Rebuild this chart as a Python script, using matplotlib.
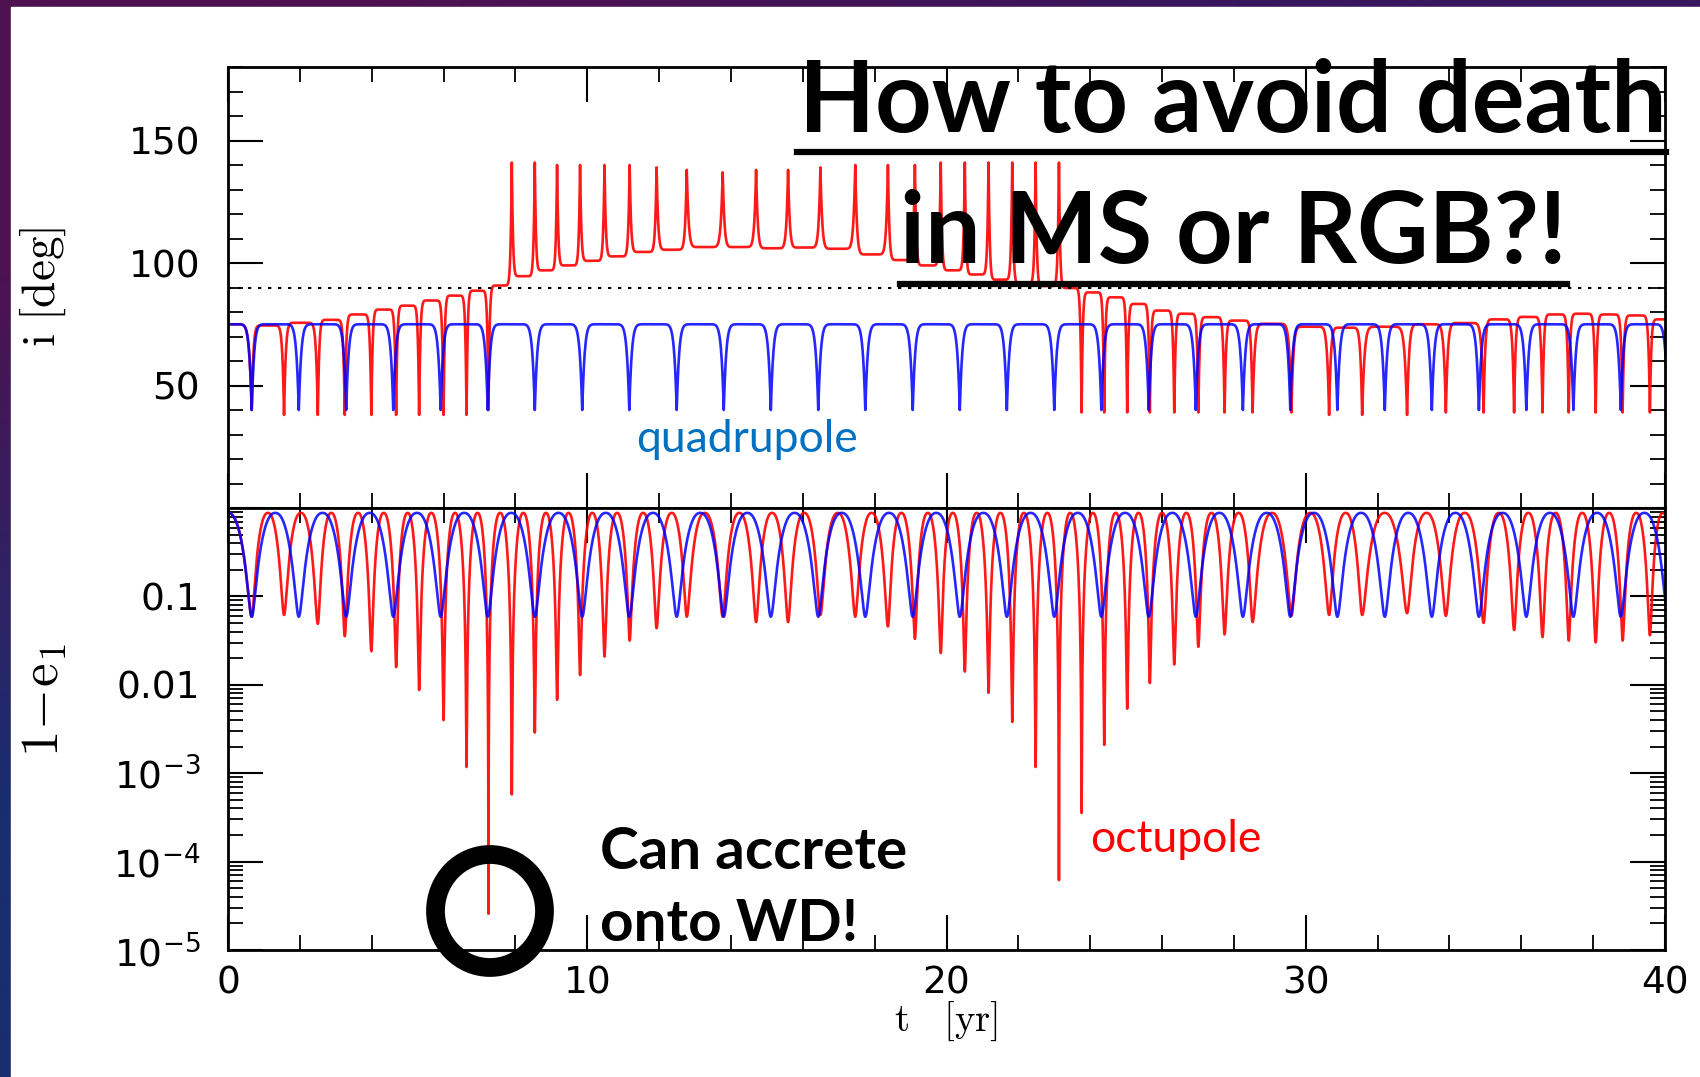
import numpy as np
import matplotlib.pyplot as plt
from matplotlib.patches import Ellipse, Rectangle
from matplotlib.lines import Line2D
from matplotlib.ticker import FixedLocator, MultipleLocator, LogLocator, FixedFormatter, NullFormatter

W, H = 1700, 1077

# quadrupole run: times of the eccentricity maxima [yr] (first/last just outside 0-40)
quad_t = [-0.66, 0.66, 1.97, 3.29, 4.60, 5.92, 7.23, 8.54, 9.86, 11.17, 12.49,
          13.80, 15.11, 16.43, 17.74, 19.06, 20.37, 21.68, 23.00, 24.31, 25.63,
          26.94, 28.25, 29.57, 30.88, 32.20, 33.51, 34.82, 36.14, 37.45, 38.77, 40.08]
quad_log_min = -1.23      # log10(1-e1) at each maximum
quad_i_dip = 40.0         # inclination at each maximum
quad_i_level = 75.0       # inclination between maxima

# octupole run
oct_t = [-0.66, 0.66, 1.56, 2.50, 3.25, 3.99, 4.68, 5.32, 6.00, 6.64,
         7.25, 7.90, 8.54, 9.16, 9.80, 10.48, 11.18, 11.93, 12.77, 13.77,
         14.70, 15.59, 16.49, 17.46, 18.37, 19.12, 19.84, 20.51, 21.17, 21.83,
         22.48, 23.13, 23.76, 24.39, 25.03, 25.66, 26.34, 27.01, 27.74, 28.52,
         29.60, 30.65, 31.57, 32.82, 33.90, 34.95, 35.80, 36.59, 37.32, 38.07,
         38.82, 39.58, 40.30]
oct_log_min = [-1.23, -1.23, -1.21, -1.31, -1.45, -1.62, -1.80, -2.06, -2.40, -2.93,
               -4.59, -3.24, -2.54, -2.17, -1.89, -1.68, -1.50, -1.36, -1.23, -1.23,
               -1.29, -1.29, -1.21, -1.23, -1.34, -1.48, -1.64, -1.85, -2.09, -2.42,
               -2.93, -4.21, -3.45, -2.68, -2.27, -1.98, -1.77, -1.57, -1.43, -1.29,
               -1.22, -1.21, -1.21, -1.19, -1.22, -1.30, -1.38, -1.46, -1.50, -1.52,
               -1.50, -1.44, -1.40]
oct_i_peak = [40, 40, 38, 38, 38, 38, 38, 38, 38, 38,
              40, 141, 141, 140, 140, 140, 140, 139, 138, 137,
              138, 138, 139, 140, 140, 140, 141, 141, 141, 141,
              141, 141, 39, 39, 39, 39, 39, 39, 39, 39,
              39, 38, 38, 38, 39, 39, 39, 39, 39, 39,
              39, 39, 39]
oct_i_level = [75, 74.5, 75.6, 76.8, 79, 81, 82.6, 84.7, 86.7, 88.7,
               90.8, 94.6, 97, 99, 100.9, 102.7, 104.5, 105.4, 106.5, 106.5,
               106, 106.3, 105.8, 103.5, 101.2, 99, 97, 95.3, 93.2, 91.7,
               90.6, 89.8, 88, 86, 83.3, 80.6, 79.3, 77.9, 76.5, 75.2,
               74, 73.6, 74, 75, 75.5, 77, 78, 79, 79.3, 79,
               78.6, 77]
e_floor = 0.12


def build(times, log_min, i_ext, levels, m=6.0, pts=500):
    # join the read extrema with Kozai-like cycles
    ts, inc, ome = [], [], []
    for k in range(len(times) - 1):
        s = np.linspace(0, 1, pts)
        u = (1 - np.cos(np.pi * s)) / 2
        t = times[k] + u * (times[k + 1] - times[k])
        c = np.abs(np.cos(np.pi * u))
        left = u < 0.5
        emax = np.where(left, 1 - 10 ** log_min[k], 1 - 10 ** log_min[k + 1])
        iext = np.where(left, i_ext[k], i_ext[k + 1])
        e = e_floor + (emax - e_floor) * c ** 2.3
        f = (1 - np.abs(np.sin(np.pi * u))) ** m
        ts.append(t)
        inc.append(levels[k] + (iext - levels[k]) * f)
        ome.append(1 - e)
    return np.concatenate(ts), np.concatenate(inc), np.concatenate(ome)


nq = len(quad_t)
tq, iq, eq = build(quad_t, [quad_log_min] * nq, [quad_i_dip] * nq, [quad_i_level] * (nq - 1))
to, io, eo = build(oct_t, oct_log_min, oct_i_peak, oct_i_level)

fig = plt.figure(figsize=(17, 10.77), dpi=100)

# slide background
bg = fig.add_axes([0, 0, 1, 1], zorder=-10)
grad = np.array([[[78, 18, 80], [55, 22, 95]],
                 [[25, 45, 112], [25, 45, 112]]]) / 255
bg.imshow(grad, extent=[0, 1, 0, 1], aspect='auto', interpolation='bilinear')
bg.add_patch(Rectangle((11 / W, 0), 1, 1 - 7 / H, color='white'))
bg.set_xlim(0, 1)
bg.set_ylim(0, 1)
bg.axis('off')

x0, wd = 228 / W, 1437 / W
ax1 = fig.add_axes([x0, 1 - 508 / H, wd, 441 / H])
ax2 = fig.add_axes([x0, 1 - 950 / H, wd, 442 / H])

ax1.plot(to, io, color='#ff0000', lw=1.9, alpha=0.9)
ax1.plot(tq, iq, color='#0000ff', lw=1.9, alpha=0.85)
ax1.axhline(90, color='k', lw=1.5, ls=(0, (1.6, 3.2)))
ax1.set_xlim(0, 40)
ax1.set_ylim(0, 180)

ax2.plot(to, eo, color='#ff0000', lw=1.9, alpha=0.9)
ax2.plot(tq, eq, color='#0000ff', lw=1.9, alpha=0.85)
ax2.set_yscale('log')
ax2.set_xlim(0, 40)
ax2.set_ylim(1e-5, 1)

for ax in (ax1, ax2):
    ax.xaxis.set_major_locator(MultipleLocator(10))
    ax.xaxis.set_minor_locator(MultipleLocator(2))
    ax.tick_params(which='major', direction='in', length=25, width=1.5,
                   top=True, right=True, labelsize=27, pad=20)
    ax.tick_params(which='minor', direction='in', length=11, width=1.3,
                   top=True, right=True)
    for sp in ax.spines.values():
        sp.set_linewidth(2)

ax1.yaxis.set_major_locator(FixedLocator([50, 100, 150]))
ax1.yaxis.set_minor_locator(MultipleLocator(10))
ax1.tick_params(axis='x', labelbottom=False)

ax2.yaxis.set_major_locator(FixedLocator([1e-5, 1e-4, 1e-3, 1e-2, 1e-1, 1]))
ax2.yaxis.set_major_formatter(FixedFormatter(
    [r'$10^{-5}$', r'$10^{-4}$', r'$10^{-3}$', '0.01', '0.1', '']))
ax2.yaxis.set_minor_locator(LogLocator(base=10, subs=np.arange(2, 10), numticks=20))
ax2.yaxis.set_minor_formatter(NullFormatter())
ax2.tick_params(axis='x', pad=11)

fig.text(43 / W, 1 - 287 / H, r'$\mathrm{i\ [deg]}$', rotation=90, fontsize=34,
         math_fontfamily='cm', ha='center', va='center')
fig.text(43 / W, 1 - 700 / H, r'$1\!-\!\mathrm{e}_1$', rotation=90, fontsize=38,
         math_fontfamily='cm', ha='center', va='center')
fig.text(946 / W, 1 - 1021 / H, r'$\mathrm{t\quad[yr]}$', fontsize=28,
         math_fontfamily='cm', ha='center', va='center')

# slide annotations
fig.text(799 / W, 1 - 132 / H, 'How to avoid death', fontfamily='Lato', fontweight='bold',
         fontsize=71, ha='left', va='baseline')
fig.add_artist(Line2D([797 / W, 1666 / W], [1 - 152 / H] * 2, color='k', lw=4.5))
fig.text(900 / W, 1 - 263 / H, 'in MS or RGB?!', fontfamily='Lato', fontweight='bold',
         fontsize=71, ha='left', va='baseline')
fig.add_artist(Line2D([900 / W, 1567 / W], [1 - 284 / H] * 2, color='k', lw=4.5))

fig.text(636 / W, 1 - 439 / H, 'quadrupole', fontfamily='Lato', color='#0070C0',
         fontsize=32, ha='left', va='center')
fig.text(1090 / W, 1 - 840 / H, 'octupole', fontfamily='Lato', color='#ff0000',
         fontsize=32, ha='left', va='center')
fig.text(600 / W, 1 - 869 / H, 'Can accrete', fontfamily='Lato', fontweight='bold',
         fontsize=42, ha='left', va='baseline')
fig.text(600 / W, 1 - 941 / H, 'onto WD!', fontfamily='Lato', fontweight='bold',
         fontsize=42, ha='left', va='baseline')
fig.add_artist(Ellipse((490 / W, 1 - 911 / H), 109 / W, 113 / H, fill=False,
                       edgecolor='k', lw=13.5, zorder=5))

fig.savefig('out.png', dpi=100)
